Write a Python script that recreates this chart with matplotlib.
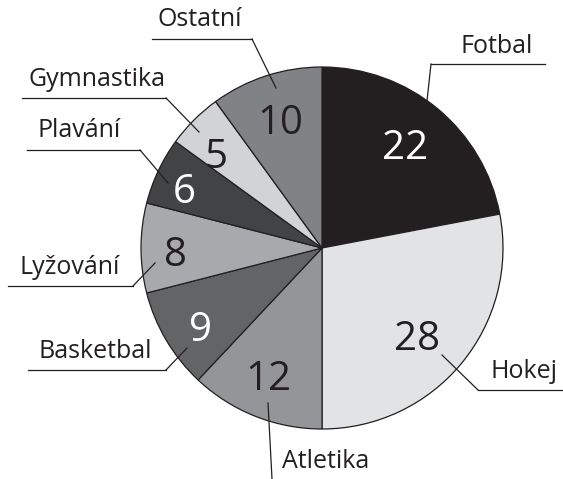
import numpy as np
import matplotlib
matplotlib.use("Agg")
import matplotlib.pyplot as plt

# data
sports = ["Fotbal", "Hokej", "Atletika", "Basketbal", "Lyžování", "Plavání", "Gymnastika", "Ostatní"]
values = [22, 28, 12, 9, 8, 6, 5, 10]
colors = ["#231f20", "#e2e3e5", "#939598", "#636466", "#a7a9ac", "#424345", "#d1d3d4", "#808285"]
num_colors = ["white", "#231f20", "#231f20", "white", "#231f20", "white", "#231f20", "#231f20"]

W, H = 563, 479
plt.rcParams['font.family'] = ['Open Sans', 'DejaVu Sans']

fig = plt.figure(figsize=(W / 100, H / 100), dpi=100)
ax = fig.add_axes([0, 0, 1, 1])

def py(y):
    # pixel row (from top) -> data y
    return H - y

cx, cy, R = 322, py(248), 181
wedges, _ = ax.pie(values, colors=colors, startangle=90, counterclock=False,
                   center=(cx, cy), radius=R, frame=True,
                   wedgeprops=dict(edgecolor="#231f20", linewidth=0.9))
ax.set_xlim(0, W)
ax.set_ylim(0, H)
ax.set_aspect('equal')
ax.axis('off')

# numbers inside wedges (radius as fraction of R, small angle nudge in degrees)
num_r = [0.74, 0.71, 0.76, 0.80, 0.81, 0.83, 0.79, 0.75]
num_da = [1, -3, -1.5, 2, 1, 1.5, 3, 0]
for w, v, c, rf, da in zip(wedges, values, num_colors, num_r, num_da):
    a = np.deg2rad((w.theta1 + w.theta2) / 2 + da)
    r = rf * R
    ax.text(cx + r * np.cos(a), cy + r * np.sin(a), str(v), color=c,
            fontsize=29, ha='center', va='center_baseline')

# label layout: text centre, underline (x0, x1, y), leader end in pixels
label_layout = {
    "Fotbal":     ((497, 46),  (431, 545, 64),  (427, 101)),
    "Ostatní":    ((200, 19),  (152, 252, 39),  (276, 88)),
    "Gymnastika": ((97, 79),   (22, 166, 98),   (199, 132)),
    "Plavání":    ((79, 130),  (27, 140, 150),  (168, 183)),
    "Lyžování":   ((70, 267),  (8, 133, 286),   (155, 263)),
    "Basketbal":  ((95, 351),  (28, 166, 370),  (187, 348)),
    "Hokej":      ((524, 371), (478, 563, 390), (442, 355)),
}
lc = "#231f20"
for name, (txt, ul, end) in label_layout.items():
    ax.text(txt[0], py(txt[1]), name, fontsize=18, ha='center', va='center', color=lc)
    x0, x1, yl = ul
    ax.plot([x0, x1], [py(yl), py(yl)], color=lc, lw=0.9)
    knee = x0 if name in ("Fotbal", "Hokej") else x1
    ax.plot([knee, end[0]], [py(yl), py(end[1])], color=lc, lw=0.9)

# Atletika: vertical leader, no underline
ax.text(326, py(462), "Atletika", fontsize=18, ha='center', va='center', color=lc)
ax.plot([272, 268], [py(479), py(403)], color=lc, lw=0.9)

fig.savefig("out.png", dpi=100)
